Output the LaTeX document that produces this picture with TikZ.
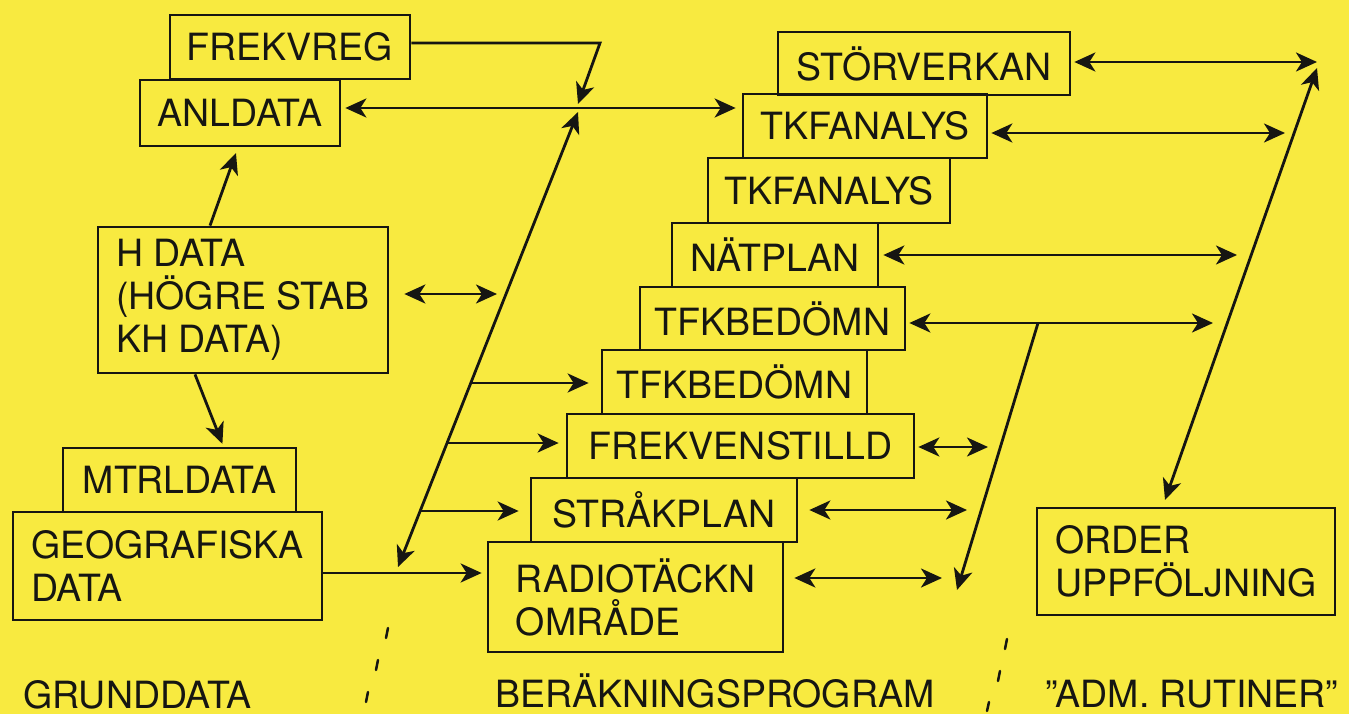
\documentclass[tikz,border=0pt]{standalone}
\usepackage{fontspec}
\setmainfont{TeX Gyre Heros}
\usetikzlibrary{arrows.meta,calc}
\definecolor{bgyellow}{RGB}{248,234,64}
\definecolor{ink}{RGB}{22,22,18}
\begin{document}
\begin{tikzpicture}[x=1pt,y=-1pt,
  every node/.style={font=\fontsize{37.5}{43}\selectfont, text=ink},
  box/.style={draw=ink, line width=2.7pt, inner sep=0pt, align=left, rectangle},
  arr/.style={draw=ink, line width=2.8pt},
  tip/.style={arrows={-Stealth[length=21pt,width=19pt,inset=6pt]}},
  tips/.style={arrows={Stealth[length=21pt,width=19pt,inset=6pt]-Stealth[length=21pt,width=19pt,inset=6pt]}},
  sep/.style={draw=ink, line width=2.5pt, line cap=round},
  lab/.style={anchor=base west, inner sep=0pt}]
\fill[bgyellow] (0,0) rectangle (1349,714);
\useasboundingbox (0,0) rectangle (1349,714);

% left column
\node[box, minimum width=240pt, minimum height=64pt] (frekvreg) at (290,47) {FREKVREG};
\node[box, minimum width=200pt, minimum height=66pt] (anldata) at (240,113) {ANLDATA};
\node[box, minimum width=290pt, minimum height=146pt] (hdata) at (243,300) {H DATA\\(HÖGRE STAB\\KH DATA)};
\node[box, minimum width=233pt, minimum height=64pt] (mtrldata) at (179.5,480) {MTRLDATA};
\node[box, minimum width=309pt, minimum height=108pt] (geo) at (167.5,566) {GEOGRAFISKA\\DATA};

% stair of programs
\node[box, minimum width=292pt, minimum height=63pt] (stor) at (924,63.5) {STÖRVERKAN};
\node[box, minimum width=244pt, minimum height=64pt] (tkf1) at (865,126) {TKFANALYS};
\node[box, minimum width=242pt, minimum height=65pt] (tkf2) at (829,190.5) {TKFANALYS};
\node[box, minimum width=206pt, minimum height=64pt] (natplan) at (775,255) {NÄTPLAN};
\node[box, minimum width=265pt, minimum height=63pt] (tfk1) at (772.5,318.5) {TFKBEDÖMN};
\node[box, minimum width=265pt, minimum height=64pt] (tfk2) at (734.5,382) {TFKBEDÖMN};
\node[box, minimum width=347pt, minimum height=64pt] (frekv) at (740.5,446) {FREKVENSTILLD};
\node[box, minimum width=266pt, minimum height=64pt] (strak) at (664,510) {STRÅKPLAN};
\node[box, minimum width=295pt, minimum height=110pt] (radio) at (635.5,597) {RADIOTÄCKN\\OMRÅDE};

% admin
\node[box, minimum width=298pt, minimum height=107pt] (order) at (1186,561.5) {ORDER\\UPPFÖLJNING};

% bottom labels
\node[lab] (l1) at (23,708) {GRUNDDATA};
\node[lab] (l2) at (495,707) {BERÄKNINGSPROGRAM};
\node[lab] (l3) at (1045,707) {\char34ADM. RUTINER\char34};

% coordinates
\coordinate (fk) at (600,43);
\coordinate (jn) at (578,108);
\coordinate (jn1) at (578,104);
\coordinate (dTop) at (578,112);
\coordinate (dBot) at (398,567);
\coordinate (hR) at (497,294);
\coordinate (a1) at ($(dTop)!0.5956!(dBot)$);
\coordinate (a2) at ($(dTop)!0.7275!(dBot)$);
\coordinate (a3) at ($(dTop)!0.8769!(dBot)$);
\coordinate (rTop) at (1317,68);
\coordinate (rBot) at (1165,500);
\coordinate (e1) at (1285,133);
\coordinate (e2) at (1237,255);
\coordinate (e3) at (1213,323);
\coordinate (e4) at (988,447);
\coordinate (e5) at (967,510);
\coordinate (e6) at (942,578);
\coordinate (m1) at (1038,323);
\coordinate (m2) at (957,590);

% left connectors
\draw[arr,tip] (frekvreg.east |- fk) -- (fk) -- (jn1);
\draw[arr,tips,shorten <=4pt,shorten >=6pt] (anldata.east |- jn) -- (tkf1.west |- jn);
\draw[arr,tips] (dTop) -- (dBot);
\draw[arr,tips,shorten <=15pt] (hdata.east |- hR) -- (hR);
\draw[arr,tip,shorten >=12pt] (a1) -- (tfk2.west |- a1);
\draw[arr,tip,shorten >=7pt] (a2) -- (frekv.west |- a2);
\draw[arr,tip,shorten >=11pt] (a3) -- (strak.west |- a3);
\draw[arr,tip,shorten >=5pt] ([yshift=-7pt]geo.east) -- ([yshift=24pt]radio.west);
\draw[arr,tip,shorten >=6pt] ([xshift=-33pt]hdata.north) -- ([xshift=-2pt]anldata.south);
\draw[arr,tip,shorten >=3pt] ([xshift=-48pt]hdata.south) -- ([xshift=44pt]mtrldata.north);

% right connectors
\draw[arr,tips,shorten <=3pt] ([yshift=1.5pt]stor.east) -- ([yshift=1.5pt]stor.east -| rTop);
\draw[arr,tips] (rTop) -- (rBot);
\draw[arr,tips,shorten <=3pt] (tkf1.east |- e1) -- (e1);
\draw[arr,tips,shorten <=4pt] (natplan.east |- e2) -- (e2);
\draw[arr,tips,shorten <=3pt] (tfk1.east |- e3) -- (e3);
\draw[arr,tips,shorten <=3pt] (frekv.east |- e4) -- (e4);
\draw[arr,tips,shorten <=11pt] (strak.east |- e5) -- (e5);
\draw[arr,tips,shorten <=10pt] (radio.east |- e6) -- (e6);
\draw[arr,tip] (m1) -- (m2);

% separators
\draw[sep] (388,628) -- (386,638);
\draw[sep] (378,660) -- (376,670);
\draw[sep] (368,692) -- (366,702);
\draw[sep] (1007,639) -- (1005,649);
\draw[sep] (1000,671) -- (998,681);
\draw[sep] (989,702) -- (987,711);
\end{tikzpicture}
\end{document}
